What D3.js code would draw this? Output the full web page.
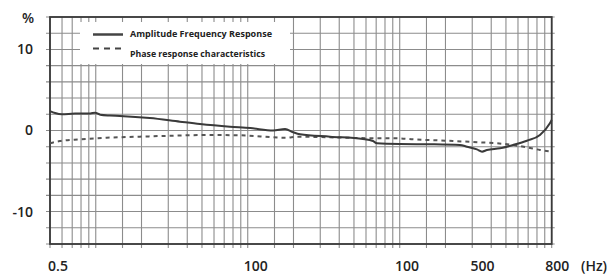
<!DOCTYPE html>
<meta charset="utf-8">
<style>
body { margin: 0; background: #fff; }
svg text { font-family: "Open Sans", sans-serif; fill: #222; }
.tick-label { font-size: 14px; font-weight: 600; }
.legend text { font-size: 9.5px; font-weight: 700; }
.grid line { stroke: #8c8c8c; stroke-width: 1.1; }
</style>
<body>
<div id="chart"></div>
<script src="https://d3js.org/d3.v7.min.js"></script>
<script>

// amplitude frequency response (solid)
var ampFreq = [0.5, 0.54, 0.6, 0.73, 0.92, 0.99, 1.07, 1.24, 1.44, 2.27, 3.58, 4.85, 7.64, 10.4, 14.7, 17.6, 19.9, 22.1, 34.8, 57.3, 66.7, 70.8, 100, 166, 249, 277, 322, 348, 375, 457, 556, 687, 837, 973, 1000];
var ampVal  = [2.4, 2.15, 2.0, 2.1, 2.1, 2.2, 1.95, 1.85, 1.8, 1.54, 1.09, 0.8, 0.47, 0.3, 0.0, 0.19, -0.22, -0.47, -0.76, -1.05, -1.3, -1.58, -1.67, -1.7, -1.79, -2.0, -2.32, -2.61, -2.41, -2.2, -1.79, -1.26, -0.56, 0.89, 1.3];

// phase response characteristics (dashed)
var phaseFreq = [0.5, 0.58, 0.79, 1.18, 1.95, 3.22, 5.37, 8.45, 18, 21, 34.8, 74, 95, 122, 204, 337, 434, 556, 684, 837, 1000];
var phaseVal  = [-1.58, -1.3, -1.09, -0.89, -0.76, -0.64, -0.56, -0.58, -0.89, -0.76, -0.84, -0.96, -0.96, -1.09, -1.26, -1.46, -1.58, -1.79, -2.07, -2.4, -2.61];

// axis labels (as printed on the original)
var xTickValues = [0.56, 11.2, 111, 348, 1078];
var xTickLabels = ["0.5", "100", "100", "500", "800"];
var yTickValues = [10, 0, -10];
var yTickLabels = ["10", "0", "-10"];

var legendNames = ["Amplitude Frequency Response", "Phase response characteristics"];

// grid
var xGrid = [];
[0.1, 1, 10, 100].forEach(function(dec) {
  [1, 1.5, 2, 3, 4, 5, 6, 7, 8, 9].forEach(function(m) {
    var v = +(m * dec).toPrecision(3);
    if (v >= 0.5 && v <= 1000) xGrid.push(v);
  });
});
xGrid.push(1000);
var yGrid = d3.range(-14, 15, 2);

var W = 610, H = 274;
var pLeft = 50, pRight = 551.7, pTop = 17, pBottom = 244;

var x = d3.scaleLog().domain([0.5, 1000]).range([pLeft, pRight]);
var y = d3.scaleLinear().domain([-14, 14]).range([pBottom, pTop]);

var svg = d3.select("#chart").append("svg")
    .attr("width", W)
    .attr("height", H);

var grid = svg.append("g").attr("class", "grid");

grid.selectAll(".v").data(xGrid).enter().append("line")
    .attr("x1", function(d) { return x(d); })
    .attr("x2", function(d) { return x(d); })
    .attr("y1", pTop)
    .attr("y2", pBottom + 4);

grid.selectAll(".h").data(yGrid).enter().append("line")
    .attr("x1", pLeft - 4)
    .attr("x2", pRight + 3)
    .attr("y1", function(d) { return y(d); })
    .attr("y2", function(d) { return y(d); });

// legend box hides the grid behind it
var legend = svg.append("g").attr("class", "legend");
legend.append("rect")
    .attr("x", 80).attr("y", 22)
    .attr("width", 210).attr("height", 42)
    .attr("fill", "#fff");

legend.append("line")
    .attr("x1", 93).attr("x2", 123).attr("y1", 34.5).attr("y2", 34.5)
    .attr("stroke", "#444").attr("stroke-width", 2.5);
legend.append("line")
    .attr("x1", 93).attr("x2", 123).attr("y1", 48.5).attr("y2", 48.5)
    .attr("stroke", "#444").attr("stroke-width", 2.2)
    .attr("stroke-dasharray", "6,5");

legend.append("text")
    .attr("x", 130).attr("y", 37)
    .attr("textLength", 142).attr("lengthAdjust", "spacingAndGlyphs")
    .text(legendNames[0]);
legend.append("text")
    .attr("x", 130).attr("y", 56.5)
    .attr("textLength", 135).attr("lengthAdjust", "spacingAndGlyphs")
    .text(legendNames[1]);

// frame
svg.append("rect")
    .attr("x", pLeft).attr("y", pTop)
    .attr("width", pRight - pLeft).attr("height", pBottom - pTop)
    .attr("fill", "none")
    .attr("stroke", "#3a3a3a")
    .attr("stroke-width", 1.8);

// curves
var line = d3.line()
    .x(function(d) { return x(d[0]); })
    .y(function(d) { return y(d[1]); })
    .curve(d3.curveMonotoneX);

svg.append("path")
    .datum(phaseFreq.map(function(f, i) { return [f, phaseVal[i]]; }))
    .attr("d", line)
    .attr("fill", "none")
    .attr("stroke", "#555")
    .attr("stroke-width", 2)
    .attr("stroke-dasharray", "4,4");

svg.append("path")
    .datum(ampFreq.map(function(f, i) { return [f, ampVal[i]]; }))
    .attr("d", line)
    .attr("fill", "none")
    .attr("stroke", "#3a3a3a")
    .attr("stroke-width", 2);

// axes
var xAxis = d3.axisBottom(x)
    .tickValues(xTickValues)
    .tickSize(0)
    .tickPadding(0)
    .tickFormat(function(d, i) { return xTickLabels[i]; });

var gx = svg.append("g")
    .attr("transform", "translate(0," + 261.5 + ")")
    .call(xAxis);
gx.select(".domain").remove();
gx.selectAll("text").attr("class", "tick-label").attr("fill", "#222");

var yAxis = d3.axisLeft(y)
    .tickValues(yTickValues)
    .tickSize(0)
    .tickPadding(0)
    .tickFormat(function(d, i) { return yTickLabels[i]; });

var gy = svg.append("g")
    .attr("transform", "translate(" + 33 + ",0)")
    .call(yAxis);
gy.select(".domain").remove();
gy.selectAll("text").attr("class", "tick-label").attr("fill", "#222");

svg.append("text")
    .attr("class", "tick-label")
    .attr("x", 34).attr("y", 23)
    .attr("text-anchor", "end")
    .text("%");

svg.append("text")
    .attr("class", "tick-label")
    .attr("x", 594).attr("y", 271.4)
    .attr("text-anchor", "middle")
    .text("(Hz)");

</script>
